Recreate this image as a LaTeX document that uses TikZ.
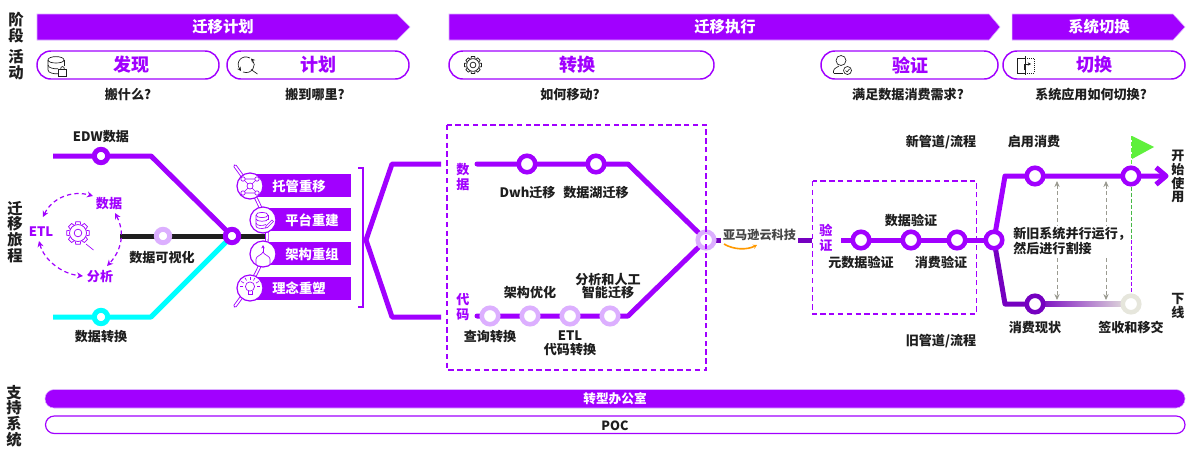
\documentclass[tikz,border=0pt]{standalone}
\usepackage{fontspec}
\setmainfont{Noto Sans CJK SC}
\usetikzlibrary{arrows.meta,backgrounds,calc}
\definecolor{pur}{HTML}{A100FF}
\definecolor{lpur}{HTML}{DCAFFF}
\definecolor{dpur}{HTML}{7500C0}
\definecolor{cyn}{HTML}{00FFFF}
\definecolor{ink}{HTML}{1E1E1E}
\definecolor{grayarrow}{HTML}{9A9A90}
\definecolor{oldgray}{HTML}{E6E6DC}
\definecolor{flag}{HTML}{5FF03C}
\definecolor{amz}{HTML}{FF9900}
\newcommand\gearat[4]{% x y scale colour
  \begin{scope}[shift={(#1,#2)},scale=#3,draw=#4,line width=.55pt]
    \foreach \a in {0,45,...,315}{\draw[rotate=\a] (-1.7,-5.2)--(-1.4,-7)--(1.4,-7)--(1.7,-5.2);}
    \draw (0,0) circle[radius=5.3];
    \draw (0,0) circle[radius=2.4];
  \end{scope}}
\tikzset{
  x=0.75pt,y=-0.75pt,
  lab/.style={font=\bfseries\fontsize{9.8}{11.2}\selectfont,text=ink,inner sep=0pt,align=center,yshift=-.6pt},
  side/.style={font=\bfseries\fontsize{11.5}{11.8}\selectfont,text=ink,inner sep=0pt,align=center},
  plab/.style={font=\bfseries\fontsize{9.8}{11}\selectfont,text=pur,inner sep=0pt,align=center,yshift=-.6pt},
  stagearrow/.style={fill=pur,draw=lpur,line width=.4pt},
  stagetxt/.style={font=\bfseries\fontsize{11.5}{13}\selectfont,text=white,inner sep=0pt},
  pill/.style={draw=pur,line width=1.1pt,fill=white,rounded corners=10.4pt},
  pilltxt/.style={font=\bfseries\fontsize{13.5}{15}\selectfont,text=pur,inner sep=0pt},
  barbox/.style={fill=pur},
  bartxt/.style={font=\bfseries\fontsize{10}{12}\selectfont,text=white,inner sep=0pt},
  ring/.style={circle,draw=pur,line width=3.4pt,fill=white,minimum size=12.4pt,inner sep=0pt},
  sring/.style={ring,line width=3.75pt,minimum size=10pt},
  lring/.style={ring,draw=lpur},
  dring/.style={ring,draw=dpur},
  gring/.style={ring,draw=oldgray},
  iconring/.style={circle,draw=pur,line width=.9pt,fill=white,minimum size=19.5pt,inner sep=0pt},
  metro/.style={draw=pur,line width=3.75pt,line join=round},
  metrod/.style={metro,draw=dpur},
  dbox/.style={draw=pur,line width=.9pt,dash pattern=on 4pt off 2.6pt},
  icn/.style={draw=ink,line width=.5pt},
  picn/.style={draw=pur,line width=.5pt},
  cyc/.style={draw=pur,line width=.9pt,dash pattern=on 3.2pt off 2.4pt,{Stealth[length=4.5pt,width=4.5pt]}-{Stealth[length=4.5pt,width=4.5pt]}},
  both/.style={draw=grayarrow,line width=.7pt,dash pattern=on 3pt off 2pt,{Stealth[length=4.5pt,width=4pt]}-{Stealth[length=4.5pt,width=4pt]}},
}
\begin{document}
\begin{tikzpicture}
\useasboundingbox (0,0) rectangle (1194,451);
\begin{pgfonlayer}{background}
\fill[white] (0,0) rectangle (1194,451);
\end{pgfonlayer}

% left headings
\node[side] (h1) at (16,27.5) {阶\\段};
\node[side] (h2) at (16,65) {活\\动};
\node[side] (h3) at (15,232) {迁\\移\\旅\\程};
\node[side] (h4) at (14,416) {支\\持\\系\\统};

% stage arrows
\path[stagearrow] (37,14)--(397,14)--(410,27)--(397,40)--(37,40)--cycle;
\path[stagearrow] (449,14)--(989,14)--(1000,27)--(989,40)--(449,40)--cycle;
\path[stagearrow] (1012,14)--(1173,14)--(1185,27)--(1173,40)--(1012,40)--cycle;
\node[stagetxt] (s1) at (223,27) {迁移计划};
\node[stagetxt] (s2) at (725,27) {迁移执行};
\node[stagetxt] (s3) at (1099,27) {系统切换};

% activity pills
\path[pill] (37,51) rectangle (219,79);
\path[pill] (227,51) rectangle (409,79);
\path[pill] (449,51) rectangle (714,79);
\path[pill] (821,51) rectangle (998,79);
\path[pill] (1003,51) rectangle (1185,79);
\node[pilltxt] (a1) at (131,65) {发现};
\node[pilltxt] (a2) at (318,65) {计划};
\node[pilltxt] (a3) at (577,65) {转换};
\node[pilltxt] (a4) at (910,65) {验证};
\node[pilltxt] (a5) at (1094,65) {切换};
\node[lab] (q1) at (128,94) {搬什么?};
\node[lab] (q2) at (315,94) {搬到哪里?};
\node[lab] (q3) at (570,94) {如何移动?};
\node[lab] (q4) at (908,94) {满足数据消费需求?};
\node[lab] (q5) at (1091,94) {系统应用如何切换?};

% pill icons
\draw[icn] (48,60) .. controls (48,55.5) and (64,55.5) .. (64,60) .. controls (64,64) and (48,64) .. (48,60);
\draw[icn] (48,60)--(48,70) .. controls (48,73) and (54,74) .. (58,73.8);
\draw[icn] (48,65) .. controls (48,68) and (54,69) .. (58,68.8);
\draw[icn] (64,60)--(64,66);
\draw[icn] (58.5,69.5) rectangle (66.5,76);
\draw[icn] (60.5,69.5) .. controls (60.5,65.5) and (64.5,65.5) .. (64.5,69.5);
\draw[icn,-{Stealth[length=3pt,width=3pt]}] (250,58) .. controls (242,54) and (235,62) .. (241,71);
\draw[icn,-{Stealth[length=3pt,width=3pt]}] (243,72) .. controls (252,75) and (257,65) .. (251,58.5);
\draw[icn] (251,69.5)--(257.5,74);
\gearat{473}{65}{1.2}{ink}
\draw[icn] (841,60.5) circle[radius=5];
\draw[icn] (833.5,73)--(833.5,71) .. controls (834,67.5) and (838,67.5) .. (839,66);
\draw[icn] (833.5,73)--(843,73);
\draw[icn] (847.5,70.5) circle[radius=4];
\draw[icn] (845.5,70.5)--(847,72)--(849.5,69);
\draw[icn] (1025,58)--(1017.5,58)--(1017.5,73)--(1025,73);
\draw[icn,densely dotted] (1025,58)--(1034,58)--(1034,73)--(1025,73);
\draw[icn] (1025,56)--(1025,75);
\draw[icn,-{Stealth[length=2.5pt,width=2.5pt]}] (1024,70)--(1024,64)--(1031,64);

% ---------- nodes of the metro map
\node[sring] (edw) at (101,156) {};
\node[sring,draw=cyn] (trans) at (101,317) {};
\node[sring,draw=lpur] (vis) at (163,236) {};
\node[sring] (hub1) at (232,236) {};
\node[ring] (dwh) at (527,164) {};
\node[ring] (lake) at (596,164) {};
\node[lring] (c1) at (490,316) {};
\node[lring] (c2) at (530,316) {};
\node[lring] (c3) at (570,316) {};
\node[lring] (c4) at (610,316) {};
\node[lring] (hub2) at (706,240) {};
\node[ring] (v1) at (861,240) {};
\node[ring] (v2) at (911,240) {};
\node[ring] (v3) at (957,240) {};
\node[ring] (hub3) at (994,240) {};
\node[ring] (n1) at (1035,176) {};
\node[ring] (n2) at (1131,176) {};
\node[dring] (o1) at (1035,304) {};
\node[gring] (o2) at (1131,304) {};

\coordinate (edwS) at (53,156); \coordinate (edwB) at (151,156);
\coordinate (trS) at (53,317); \coordinate (trB) at (151,317);
\coordinate (blkS) at (120,236); \coordinate (blkE) at (265,236);
\coordinate (chT) at (441,164); \coordinate (chTb) at (392,164);
\coordinate (chM) at (366,240); \coordinate (chBb) at (392,317);
\coordinate (chB) at (441,317);
\coordinate (dS) at (477,164); \coordinate (dB) at (628,164);
\coordinate (cS) at (477,316); \coordinate (cB) at (628,316);
\coordinate (l1) at (721,240); \coordinate (l2) at (798,240);
\coordinate (l3) at (812,240); \coordinate (vS) at (841,240);
\coordinate (nB) at (1005,176); \coordinate (oB) at (1005,304);
\coordinate (nE) at (1166,176);
\coordinate (dT) at (1131,136); \coordinate (dM) at (1131,240);

% approach list: spine behind its discs
\begin{pgfonlayer}{background}
\draw[draw=pur,line width=2.6pt,line cap=round] (235,166) .. controls (250,186) and (267,212) .. (267,236) .. controls (267,260) and (250,286) .. (235,306);
\draw[draw=white,line width=1.3pt] (235,166) .. controls (250,186) and (267,212) .. (267,236) .. controls (267,260) and (250,286) .. (235,306);
  \draw[draw=ink,line width=3.75pt] (blkS)--(blkE);
  \draw[metro,draw=cyn] (trS)--(trB)--(hub1.center);
  \draw[metro] (edwS)--(edwB)--(hub1.center);
  \draw[metro] (chT)--(chTb)--(chM)--(chBb)--(chB);
  \draw[metro,line cap=round] (dS)--(dB)--(hub2.center);
  \draw[metro,line cap=round] (cS)--(cB)--(hub2.center);
  \draw[metrod] (hub2.center)--(l1);
  \draw[metrod] (l2)--(l3);
  \draw[metro] (vS)--(hub3.center);
  \draw[metro] (hub3.center)--(nB)--(nE);
  \draw[metrod] (hub3.center)--(oB)--(o1.center);
  \fill[left color=dpur,right color=oldgray] ($(o1.center)+(0,-2.5)$) rectangle ($(o2.center)+(0,2.5)$);
\end{pgfonlayer}
\draw[draw=pur,line width=3.75pt,line join=round] (1156,167.5)--(nE)--(1156,184.5);

% ETL cycle
\coordinate (e1) at (43,217); \coordinate (e2) at (93,196);
\coordinate (e3) at (115,213); \coordinate (e4) at (107,266);
\coordinate (e5) at (39,241); \coordinate (e6) at (83,276);
\draw[cyc] (e1) .. controls (52,198) and (72,190) .. (e2);
\draw[cyc] (e3) .. controls (125,232) and (122,250) .. (e4);
\draw[cyc] (e5) .. controls (44,260) and (62,274) .. (e6);
\node[plab] (cd) at (109,203) {数据};
\node[plab] (ce) at (41,231) {ETL};
\node[plab] (cf) at (100,276) {分析};
\gearat{78}{233}{1.6}{pur}
\draw[picn] (86,244)--(93.5,250);

\node[lab] (t1) at (101,136) {EDW数据};
\node[lab] (t2) at (162,257) {数据可视化};
\node[lab] (t3) at (101,336) {数据转换};

\fill[barbox] (255,174) rectangle (351,197);
\fill[barbox] (268,208) rectangle (351,231);
\fill[barbox] (268,242) rectangle (351,265);
\fill[barbox] (255,277) rectangle (351,300);
\node[iconring] (i1) at (250,186) {};
\node[iconring] (i2) at (263,220) {};
\node[iconring] (i3) at (263,254) {};
\node[iconring] (i4) at (250,288) {};
\node[bartxt] (b1) at (299,186) {托管重移};
\node[bartxt] (b2) at (312,220) {平台重建};
\node[bartxt] (b3) at (312,254) {架构重组};
\node[bartxt] (b4) at (299,288) {理念重塑};
% icon 1 network
\draw[picn] (243,179)--(257,193) (257,179)--(243,193) (243,179)--(257,179) (243,193)--(257,193);
\foreach \p in {(243,179),(257,179),(243,193),(257,193)}{\draw[picn,fill=white] \p circle[radius=2.2];}
\draw[picn,fill=white] (250,186) circle[radius=3];
% icon 2 database & pen
\draw[picn] (256,215) .. controls (256,211.5) and (268,211.5) .. (268,215) .. controls (268,218.5) and (256,218.5) .. (256,215);
\draw[picn] (256,215)--(256,226) .. controls (256,228.5) and (262,229) .. (265,228);
\draw[picn] (256,219) .. controls (256,222) and (268,222) .. (268,219);
\draw[picn] (256,223) .. controls (256,226) and (263,226) .. (266,224.5);
\draw[picn] (268,215)--(268,220);
\draw[picn] (266,226)--(272,220)--(273.5,221.5)--(267.5,227.5)--(265.5,228)--cycle;
% icon 3 merge
\draw[picn,-{Stealth[length=2.5pt,width=2.5pt]}] (263,252)--(263,245);
\draw[picn] (256,264)--(256,259) .. controls (256,256) and (262,255) .. (263,252) .. controls (264,255) and (270,256) .. (270,259)--(270,264);
% icon 4 bulb
\draw[picn] (250,286.5) circle[radius=4.6];
\draw[picn] (248,291)--(248,294.5)--(252,294.5)--(252,291);
\foreach \a in {-150,-120,-90,-60,-30,0,180}{\draw[picn] ($(250,286.5)+(\a:7)$)--($(250,286.5)+(\a:10)$);}
% bracket
\draw[draw=pur,line width=.8pt] (358,168)--(363,168)--(363,307)--(358,307);

% transformation box
\draw[dbox] (447,125) rectangle (706,370);
\node[plab] (tb1) at (463,176) {数\\据};
\node[plab] (tb2) at (463,306) {代\\码};
\node[lab] (t4) at (527.5,192) {Dwh迁移};
\node[lab] (t5) at (596,192) {数据湖迁移};
\node[lab] (t6) at (490,336) {查询转换};
\node[lab] (t7) at (530,292) {架构优化};
\node[lab,font=\bfseries\fontsize{9.8}{9.8}\selectfont] (t8) at (608,285.5) {分析和人工\\智能迁移};
\node[lab,font=\bfseries\fontsize{9.8}{9.8}\selectfont] (t9) at (570,342.5) {ETL\\代码转换};

% cloud partner
\node[lab,text=black!72,font=\bfseries\fontsize{9.1}{10}\selectfont] (aws) at (759.5,234) {亚马逊云科技};
\coordinate (sm1) at (724,244); \coordinate (sm2) at (757,245);
\draw[draw=amz,line width=1.2pt,-{Stealth[length=3pt,width=3.5pt]}] (sm1) .. controls (734,250) and (747,250) .. (sm2);

% validation box
\draw[dbox] (812.5,181) rectangle (976.5,314);
\node[plab] (vb) at (826,237) {验\\证};
\node[lab] (t10) at (861,262) {元数据验证};
\node[lab] (t11) at (911,220) {数据验证};
\node[lab] (t12) at (941,262) {消费验证};

% cutover
\draw[draw=flag,line width=.7pt,dash pattern=on 3pt off 1.5pt] (dT)--(n2);
\draw[draw=green!45!gray,line width=.7pt,dash pattern=on 3pt off 1.5pt] (n2)--(dM);
\draw[draw=pur,line width=.7pt,dash pattern=on 3pt off 1.5pt] (dM)--(o2);
\fill[flag] (1132,136)--(1154,147)--(1132,159)--cycle;
\coordinate (g1t) at (1057,181); \coordinate (g1b) at (1057,300);
\coordinate (g2t) at (1106,181); \coordinate (g2b) at (1106,300);
\draw[both] (g1t)--(g1b);
\draw[both] (g2t)--(g2b);
\fill[white] (1011,226) rectangle (1128,255);
\node[lab,align=left,anchor=west,font=\bfseries\fontsize{9.8}{9.8}\selectfont] (t13) at (1013,240.5) {新旧系统并行运行，\\然后进行割接};
\node[lab] (t14) at (941,141) {新管道/流程};
\node[lab] (t15) at (1034,141) {启用消费};
\node[lab] (t16) at (941,340) {旧管道/流程};
\node[lab] (t17) at (1035,327) {消费现状};
\node[lab] (t18) at (1131,327) {签收和移交};
\node[lab,font=\bfseries\fontsize{9.8}{10.2}\selectfont] (t19) at (1178,176) {开\\始\\使\\用};
\node[lab,font=\bfseries\fontsize{9.8}{10.2}\selectfont] (t20) at (1178,305) {下\\线};

% support bars
\path[fill=pur,draw=lpur,line width=.4pt,rounded corners=6.8pt] (45,389.5) rectangle (1185,408);
\path[fill=white,draw=pur,line width=.9pt,rounded corners=6.6pt] (45.5,416) rectangle (1185,433.5);
\node[bartxt,font=\bfseries\fontsize{9.5}{11}\selectfont] (sb1) at (615,399) {转型办公室};
\node[lab,font=\bfseries\fontsize{9.5}{11}\selectfont] (sb2) at (615,425) {POC};
\end{tikzpicture}
\end{document}
